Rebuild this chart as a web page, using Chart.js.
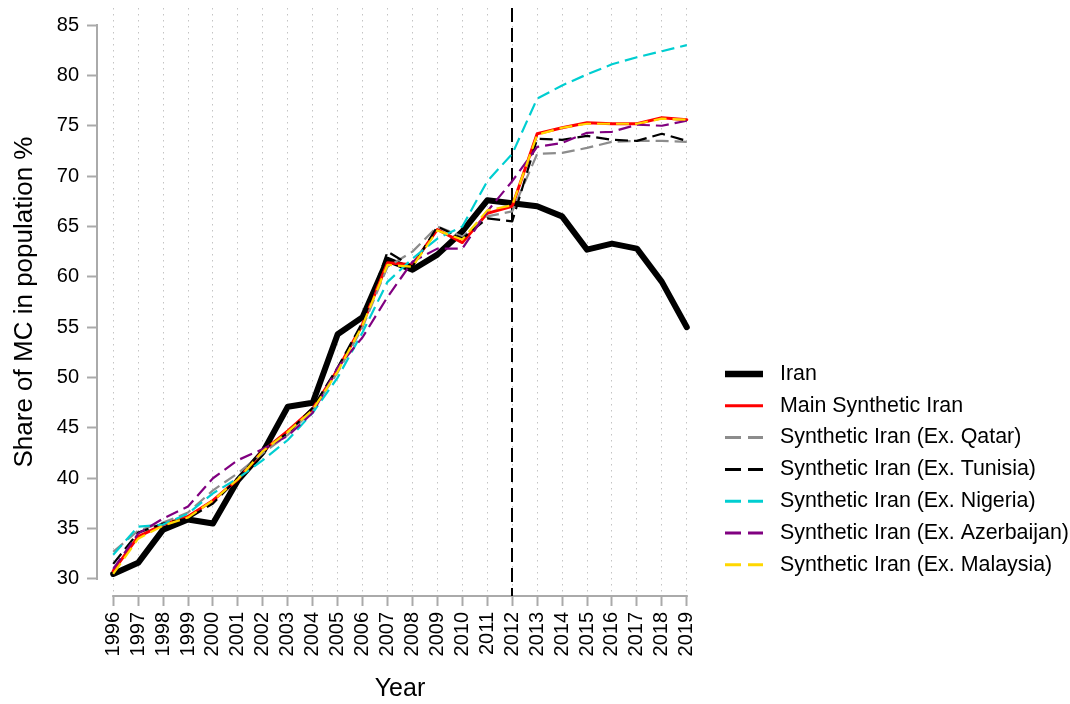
<!DOCTYPE html>
<html><head><meta charset="utf-8">
<script src="https://cdn.jsdelivr.net/npm/chart.js@4.4.1/dist/chart.umd.min.js"></script>
<style>html,body{margin:0;padding:0;background:#fff;}canvas{display:block;}</style>
</head><body>
<canvas id="c" width="1070" height="704"></canvas>
<script>
const years = [1996,1997,1998,1999,2000,2001,2002,2003,2004,2005,2006,2007,2008,2009,2010,2011,2012,2013,2014,2015,2016,2017,2018,2019];
const iran     = [30.5,31.6,34.9,35.9,35.5,39.8,42.6,47.1,47.5,54.3,56.0,61.7,60.7,62.2,64.5,67.6,67.3,67.0,66.0,62.7,63.3,62.8,59.5,55.0];
const mainSyn  = [30.8,34.2,35.4,36.2,37.8,39.9,42.7,44.7,46.9,50.8,55.3,61.4,61.2,64.7,63.4,66.3,67.0,74.2,74.8,75.3,75.2,75.2,75.8,75.6];
const exQatar  = [32.7,34.8,35.6,36.6,38.8,40.5,42.5,44.3,46.8,50.5,55.0,61.0,62.5,65.0,64.0,66.0,66.5,72.2,72.3,72.8,73.4,73.5,73.5,73.4];
const exTunisia= [31.5,34.6,35.5,36.0,37.5,40.0,42.8,44.5,47.0,51.0,55.5,62.5,61.0,65.0,63.8,65.8,65.5,73.7,73.6,74.0,73.6,73.5,74.2,73.5];
const exNigeria= [32.4,35.2,35.4,36.5,38.5,40.0,41.8,43.8,46.5,50.0,54.5,59.5,61.8,63.8,65.0,69.5,72.2,77.7,79.0,80.1,81.1,81.8,82.4,83.0];
const exAzerb  = [31.0,34.5,36.0,37.2,40.0,41.8,42.9,44.2,46.5,51.0,54.0,58.0,61.5,62.8,62.8,66.5,69.5,72.9,73.3,74.3,74.4,75.1,75.0,75.5];
const exMalay  = [30.5,34.0,35.3,36.1,37.8,39.9,42.7,44.6,46.8,50.6,55.2,61.2,61.0,64.6,63.7,66.6,67.1,74.1,74.8,75.2,75.2,75.2,75.7,75.6];
const yTicks = [30,35,40,45,50,55,60,65,70,75,80,85];
const interventionYear = 2012;
const seriesLabels = ['Iran','Main Synthetic Iran','Synthetic Iran (Ex. Qatar)','Synthetic Iran (Ex. Tunisia)','Synthetic Iran (Ex. Nigeria)','Synthetic Iran (Ex. Azerbaijan)','Synthetic Iran (Ex. Malaysia)'];

const FONT = '"Liberation Sans", Arial, Helvetica, sans-serif';
const pts = arr => years.map((yr, i) => ({x: yr, y: arr[i]}));
const DASH = [13, 6];
const styles = [
  {color:'#000000', width:6, dash:[]},
  {color:'#ff0000', width:3, dash:[]},
  {color:'#8c8c8c', width:2.2, dash:DASH},
  {color:'#000000', width:2.2, dash:DASH},
  {color:'#00ced1', width:2.2, dash:DASH},
  {color:'#800080', width:2.2, dash:DASH},
  {color:'#ffd700', width:2.2, dash:DASH}
];
const seriesData = [iran, mainSyn, exQatar, exTunisia, exNigeria, exAzerb, exMalay];
const datasets = seriesData.map((arr, i) => ({
  label: seriesLabels[i],
  data: pts(arr),
  borderColor: styles[i].color,
  borderWidth: styles[i].width,
  borderDash: styles[i].dash,
  borderCapStyle: styles[i].dash.length ? 'butt' : 'round',
  borderJoinStyle: 'round',
  pointRadius: 0,
  tension: 0,
  fill: false,
  order: seriesData.length - 1 - i
}));

const decor = {
  id: 'decor',
  beforeDatasetsDraw(chart) {
    const {ctx, chartArea, scales: {x, y}} = chart;
    ctx.save();
    ctx.strokeStyle = '#aaaaaa';
    ctx.lineWidth = 2;
    ctx.beginPath();
    ctx.moveTo(chartArea.left, y.getPixelForValue(yTicks[0]) + 1);
    ctx.lineTo(chartArea.left, y.getPixelForValue(yTicks[yTicks.length - 1]) - 1);
    ctx.moveTo(x.getPixelForValue(years[0]) - 1, chartArea.bottom);
    ctx.lineTo(x.getPixelForValue(years[years.length - 1]) + 1, chartArea.bottom);
    ctx.stroke();
    const vx = Math.round(x.getPixelForValue(interventionYear));
    ctx.strokeStyle = '#000000';
    ctx.lineWidth = 2;
    ctx.setLineDash([14, 6]);
    ctx.beginPath();
    ctx.moveTo(vx, chartArea.top);
    ctx.lineTo(vx, chartArea.bottom);
    ctx.stroke();
    ctx.restore();
  },
  afterDraw(chart) {
    const {ctx, chartArea} = chart;
    const x0 = chartArea.right + 22, x1 = x0 + 38, tx = x0 + 55;
    const yStart = 374, dy = 31.8;
    ctx.save();
    ctx.font = '21.4px ' + FONT;
    ctx.textBaseline = 'middle';
    ctx.textAlign = 'left';
    chart.data.datasets.forEach((ds, i) => {
      const yy = yStart + i * dy;
      ctx.strokeStyle = ds.borderColor;
      ctx.lineWidth = i === 0 ? 6.5 : 3;
      ctx.lineCap = 'butt';
      ctx.beginPath();
      if (ds.borderDash && ds.borderDash.length) {
        ctx.moveTo(x0, yy); ctx.lineTo(x0 + 16, yy);
        ctx.moveTo(x0 + 23, yy); ctx.lineTo(x1, yy);
      } else {
        ctx.moveTo(x0, yy); ctx.lineTo(x1, yy);
      }
      ctx.stroke();
      ctx.fillStyle = '#000';
      ctx.fillText(ds.label, tx, yy);
    });
    ctx.restore();
  }
};

new Chart(document.getElementById('c'), {
  type: 'line',
  data: {datasets},
  options: {
    responsive: false,
    animation: false,
    events: [],
    layout: {padding: {top: 8, right: 367, bottom: 0, left: 0}},
    plugins: {legend: {display: false}, tooltip: {enabled: false}},
    scales: {
      x: {
        type: 'linear',
        position: 'bottom',
        min: 1995.35,
        max: 2019.65,
        afterBuildTicks: s => { s.ticks = years.map(v => ({value: v})); },
        afterFit: s => { s.height = 108; s.paddingLeft = 0; s.paddingRight = 0; },
        ticks: {
          autoSkip: false, maxRotation: 90, minRotation: 90, padding: 6,
          color: '#000', font: {family: FONT, size: 20},
          callback: v => String(v)
        },
        grid: {
          display: true, drawOnChartArea: true, drawTicks: true,
          color: '#c4c4c4', lineWidth: 1,
          tickLength: 10, tickColor: '#aaaaaa', tickWidth: 2
        },
        border: {display: false, dash: [1.5, 4.5]},
        title: {display: true, text: 'Year', color: '#000', font: {family: FONT, size: 25}, padding: {top: 0, bottom: 0}}
      },
      y: {
        type: 'linear',
        min: 28.31,
        max: 86.69,
        afterBuildTicks: s => { s.ticks = yTicks.map(v => ({value: v})); },
        afterFit: s => { s.width = 97; s.paddingTop = 0; s.paddingBottom = 0; },
        ticks: {padding: 8, color: '#000', font: {family: FONT, size: 20}},
        grid: {
          display: true, drawOnChartArea: false, drawTicks: true,
          tickLength: 10, tickColor: '#aaaaaa', tickWidth: 2
        },
        border: {display: false},
        title: {display: true, text: 'Share of MC in population %', color: '#000', font: {family: FONT, size: 26}, padding: {top: 9, bottom: 0}}
      }
    }
  },
  plugins: [decor]
});
</script>
</body></html>
